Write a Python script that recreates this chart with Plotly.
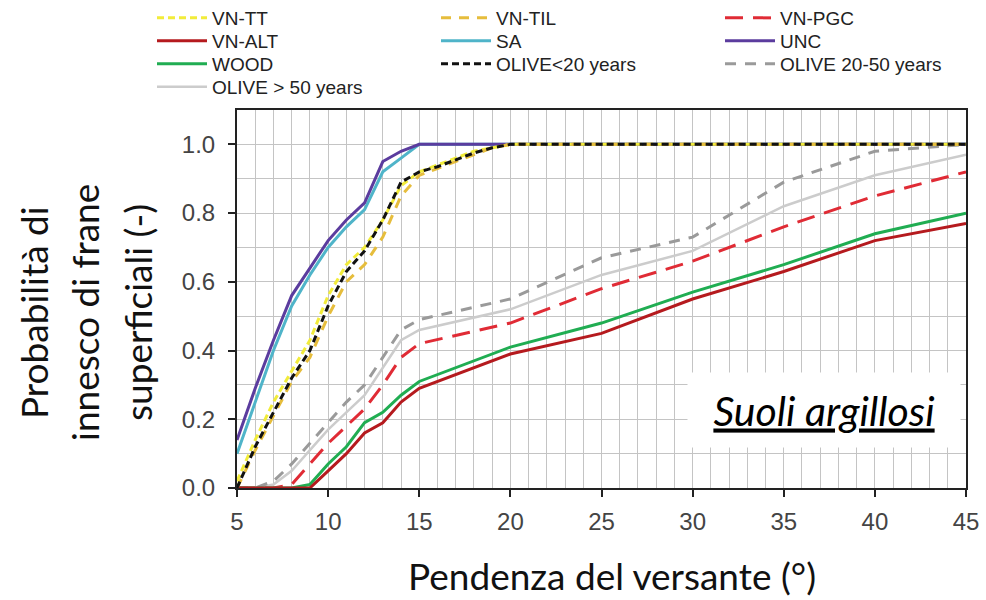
import plotly.graph_objects as go

# ---- data ----
x_unc = [5, 6, 7, 8, 9, 10, 11, 12, 13, 14, 15, 20, 25, 30, 35, 40, 45]
unc = [0.14, 0.29, 0.43, 0.56, 0.64, 0.72, 0.78, 0.83, 0.95, 0.98, 1.0, 1.0, 1.0, 1.0, 1.0, 1.0, 1.0]
sa = [0.10, 0.25, 0.40, 0.53, 0.62, 0.70, 0.76, 0.81, 0.92, 0.96, 1.0, 1.0, 1.0, 1.0, 1.0, 1.0, 1.0]

x_top = [5, 6, 7, 8, 9, 10, 11, 12, 13, 14, 15, 16, 17, 18, 19, 20, 25, 30, 35, 40, 45]
vn_tt = [0.02, 0.14, 0.25, 0.34, 0.43, 0.56, 0.65, 0.70, 0.78, 0.88, 0.92, 0.94, 0.96, 0.98, 0.99, 1.0, 1.0, 1.0, 1.0, 1.0, 1.0]
vn_til = [0.0, 0.11, 0.21, 0.31, 0.38, 0.50, 0.60, 0.65, 0.73, 0.85, 0.91, 0.93, 0.95, 0.97, 0.99, 1.0, 1.0, 1.0, 1.0, 1.0, 1.0]
olive_lt20 = [0.0, 0.12, 0.22, 0.32, 0.40, 0.53, 0.63, 0.69, 0.78, 0.89, 0.92, 0.935, 0.955, 0.975, 0.99, 1.0, 1.0, 1.0, 1.0, 1.0, 1.0]

x_low = [5, 6, 7, 8, 9, 10, 11, 12, 13, 14, 15, 20, 25, 30, 35, 40, 45]
olive_20_50 = [0.0, 0.0, 0.02, 0.07, 0.13, 0.19, 0.25, 0.30, 0.38, 0.46, 0.49, 0.55, 0.67, 0.73, 0.89, 0.98, 1.0]
olive_gt50 = [0.0, 0.0, 0.01, 0.05, 0.11, 0.17, 0.22, 0.27, 0.35, 0.43, 0.46, 0.52, 0.62, 0.69, 0.82, 0.91, 0.97]
vn_pgc = [0.0, 0.0, 0.0, 0.01, 0.07, 0.13, 0.18, 0.23, 0.30, 0.38, 0.42, 0.48, 0.58, 0.66, 0.76, 0.85, 0.92]
wood = [0.0, 0.0, 0.0, 0.0, 0.01, 0.07, 0.12, 0.19, 0.22, 0.27, 0.31, 0.41, 0.48, 0.57, 0.65, 0.74, 0.80]
vn_alt = [0.0, 0.0, 0.0, 0.0, 0.0, 0.05, 0.10, 0.16, 0.19, 0.25, 0.29, 0.39, 0.45, 0.55, 0.63, 0.72, 0.77]

x_ticks = [5, 10, 15, 20, 25, 30, 35, 40, 45]
y_ticks = [0.0, 0.2, 0.4, 0.6, 0.8, 1.0]

W, H = 986, 600
ML, MR, MT, MB = 237, 20, 110, 112
PW, PH = W - ML - MR, H - MT - MB


def px_x(p):
    return (p - ML) / PW


def px_y(p):
    return (H - MB - p) / PH


fig = go.Figure()


def add(name, x, y, color, dash, width, legend):
    fig.add_trace(go.Scatter(x=x, y=y, mode="lines", name=name, legend=legend,
                             line=dict(color=color, dash=dash, width=width)))


add("OLIVE > 50 years", x_low, olive_gt50, "#cccccc", "solid", 2.5, "legend4")
add("OLIVE 20-50 years", x_low, olive_20_50, "#9a9a9a", "11px,9px", 3, "legend3")
add("VN-PGC", x_low, vn_pgc, "#e02b35", "18px,10px", 3, "legend")
add("WOOD", x_low, wood, "#20ad52", "solid", 3, "legend3")
add("VN-ALT", x_low, vn_alt, "#b51a1e", "solid", 3, "legend2")
add("SA", x_unc, sa, "#4fb4c9", "solid", 3, "legend2")
add("UNC", x_unc, unc, "#5b3c9e", "solid", 3, "legend2")
add("VN-TT", x_top, vn_tt, "#f2ec3a", "7px,4px", 3, "legend")
add("VN-TIL", x_top, vn_til, "#e6bd3c", "10px,8px", 3, "legend")
add("OLIVE<20 years", x_top, olive_lt20, "#111111", "7px,4px", 3, "legend3")

# legend ordering within rows
rank = {"VN-TT": 1, "VN-TIL": 2, "VN-PGC": 3, "VN-ALT": 1, "SA": 2, "UNC": 3,
        "WOOD": 1, "OLIVE<20 years": 2, "OLIVE 20-50 years": 3, "OLIVE > 50 years": 1}
for tr in fig.data:
    tr.legendrank = rank[tr.name]

leg_font = dict(family="Liberation Sans", size=19, color="#222")


def leg(row_py):
    return dict(orientation="h", xref="paper", yref="paper",
                x=px_x(152), y=px_y(row_py), xanchor="left", yanchor="middle",
                entrywidth=219, entrywidthmode="pixels", itemwidth=50,
                font=leg_font, bgcolor="rgba(0,0,0,0)", traceorder="normal")


axis_font = dict(family="Liberation Sans", size=24, color="#444")

fig.update_layout(
    width=W, height=H,
    margin=dict(l=ML, r=MR, t=MT, b=MB, autoexpand=False),
    paper_bgcolor="white", plot_bgcolor="white",
    showlegend=True,
    legend=leg(18), legend2=leg(41), legend3=leg(64), legend4=leg(87),
    xaxis=dict(range=[5, 45], tickvals=x_ticks, ticks="outside", ticklen=7,
               tickcolor="#222", tickwidth=1.5, ticklabelstandoff=4,
               showgrid=True, gridcolor="#c4c4c4", gridwidth=1,
               minor=dict(dtick=1, showgrid=True, gridcolor="#c4c4c4", gridwidth=1),
               showline=True, linecolor="#222", linewidth=2, mirror=True,
               zeroline=False, tickfont=axis_font),
    yaxis=dict(range=[0, 1.1], tickvals=y_ticks, tickformat=".1f", ticks="outside",
               ticklen=7, tickcolor="#222", tickwidth=1.5, ticklabelstandoff=8,
               showgrid=True, gridcolor="#c4c4c4", gridwidth=1,
               minor=dict(dtick=0.1, showgrid=True, gridcolor="#c4c4c4", gridwidth=1),
               showline=True, linecolor="#222", linewidth=2, mirror=True,
               zeroline=False, tickfont=axis_font),
)

title_font = dict(family="Lato", size=37, color="#111")
for txt, cx in [("Probabilità di", 33), ("innesco di frane", 84), ("superficiali (-)", 137)]:
    fig.add_annotation(text=txt, xref="paper", yref="paper", x=px_x(cx), y=px_y(313),
                       xanchor="center", yanchor="middle", textangle=-90,
                       showarrow=False, font=title_font)
fig.add_annotation(text="Pendenza del versante (°)",
                   xref="paper", yref="paper", x=px_x(612), y=px_y(575),
                   xanchor="center", yanchor="middle", showarrow=False,
                   font=title_font)
fig.add_annotation(text="<u>Suoli argillosi</u>",
                   xref="x", yref="y", x=37.2, y=0.227,
                   xanchor="center", yanchor="middle", showarrow=False,
                   bgcolor="white", borderpad=0, width=272, height=74,
                   font=dict(family="Lato", size=41, color="#000", style="italic"))

fig.write_html("out.html", config={"displayModeBar": False},
               post_script="document.body.style.margin='0px';")
